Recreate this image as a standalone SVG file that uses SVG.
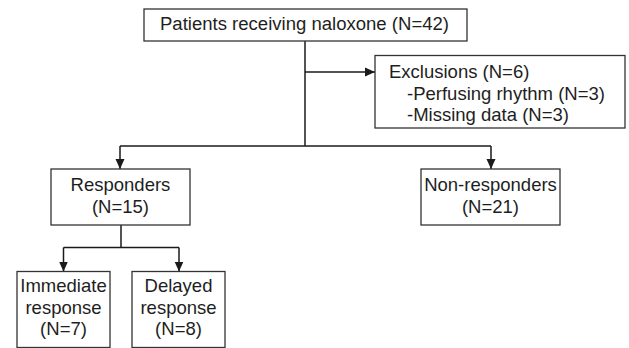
<svg xmlns="http://www.w3.org/2000/svg" width="629" height="348" viewBox="0 0 629 348">
<defs>
<marker id="ah" viewBox="0 0 10 10" refX="10" refY="5" markerWidth="10" markerHeight="10" markerUnits="userSpaceOnUse" orient="auto">
<path d="M0,0.5 L10,5 L0,9.5 z" fill="#1a1a1a"/>
</marker>
<style>
.box{fill:#fff;stroke:#333;stroke-width:1.3}
.t{font-family:"Liberation Sans",Arial,sans-serif;font-size:18.5px;fill:#1e1e1e}
.c{text-anchor:middle}
.ln{fill:none;stroke:#1a1a1a;stroke-width:1.5}
</style>
</defs>
<rect width="629" height="348" fill="#fff"/>
<g id="connectors">
<path class="ln" d="M305,41 V146"/>
<path class="ln" d="M305,72 H375" marker-end="url(#ah)"/>
<path class="ln" d="M120,146 H491"/>
<path class="ln" d="M120,146 V169" marker-end="url(#ah)"/>
<path class="ln" d="M491,146 V169" marker-end="url(#ah)"/>
<path class="ln" d="M121,225 V247.5"/>
<path class="ln" d="M63.5,247.5 H179"/>
<path class="ln" d="M63.5,247.5 V271.5" marker-end="url(#ah)"/>
<path class="ln" d="M179,247.5 V271.5" marker-end="url(#ah)"/>
</g>
<g id="patients">
<rect class="box" x="144" y="9" width="323" height="32"/>
<text class="t" x="160" y="30" style="font-size:19.2px" textLength="289" lengthAdjust="spacingAndGlyphs">Patients receiving naloxone (N=42)</text>
</g>
<g id="exclusions">
<rect class="box" x="375" y="55.5" width="250" height="72.5"/>
<text class="t" x="389" y="78">Exclusions (N=6)</text>
<text class="t" x="407" y="99.5">-Perfusing rhythm (N=3)</text>
<text class="t" x="407" y="121">-Missing data (N=3)</text>
</g>
<g id="responders">
<rect class="box" x="51" y="169" width="139" height="56"/>
<text class="t c" x="120.5" y="191">Responders</text>
<text class="t c" x="120.5" y="212.5">(N=15)</text>
</g>
<g id="nonresponders">
<rect class="box" x="421" y="169" width="139" height="56"/>
<text class="t c" x="490.5" y="191">Non-responders</text>
<text class="t c" x="490.5" y="212.5">(N=21)</text>
</g>
<g id="immediate">
<rect class="box" x="17" y="271.5" width="93" height="76"/>
<text class="t c" x="63.5" y="292">Immediate</text>
<text class="t c" x="63.5" y="313.5">response</text>
<text class="t c" x="63.5" y="335">(N=7)</text>
</g>
<g id="delayed">
<rect class="box" x="132" y="271.5" width="93" height="76"/>
<text class="t c" x="178.5" y="292">Delayed</text>
<text class="t c" x="178.5" y="313.5">response</text>
<text class="t c" x="178.5" y="335">(N=8)</text>
</g>
</svg>
